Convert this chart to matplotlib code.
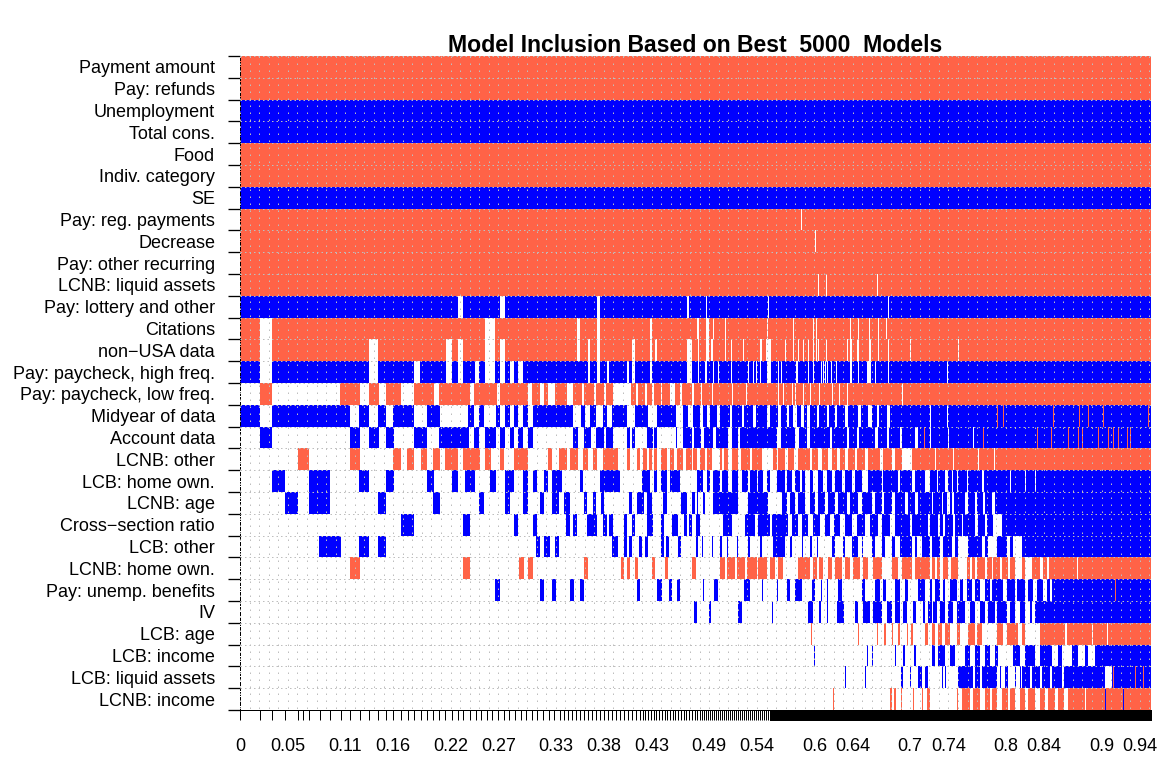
import matplotlib
matplotlib.use("Agg")
import matplotlib.pyplot as plt
import numpy as np
from matplotlib.colors import ListedColormap

plt.rcParams['font.family'] = ['Liberation Sans', 'DejaVu Sans']

# regressors, top to bottom (ordered by posterior inclusion probability)
variables = [
    'Payment amount', 'Pay: refunds', 'Unemployment', 'Total cons.', 'Food',
    'Indiv. category', 'SE', 'Pay: reg. payments', 'Decrease',
    'Pay: other recurring', 'LCNB: liquid assets', 'Pay: lottery and other',
    'Citations', 'non\u2212USA data', 'Pay: paycheck, high freq.',
    'Pay: paycheck, low freq.', 'Midyear of data', 'Account data',
    'LCNB: other', 'LCB: home own.', 'LCNB: age', 'Cross\u2212section ratio',
    'LCB: other', 'LCNB: home own.', 'Pay: unemp. benefits', 'IV',
    'LCB: age', 'LCB: income', 'LCB: liquid assets', 'LCNB: income',
]

# inclusion raster along the cumulative-PMP axis (911 cells).
# first letter = fill, then tokens colour+cell or colour+start-end
# r = negative coefficient, b = positive coefficient, w = not included
inclusion = [
    "r",
    "r",
    "b",
    "b",
    "r",
    "r",
    "b",
    "r w561",
    "r w575",
    "r",
    "r w578 w586 w637",
    "b w218-223 w260-265 w357-360 w447-449 w466 w528 w648",
    "r w20-32 w245-255 w337-340 w357-360 w410-412 w457-459 w466-469 w473 w485 w527 w553 "
    "w573 w576 w610 w618 w629 w638 w646",
    "r w20-32 w129-138 w206-212 w218-223 w245-255 w260-265 w337-340 w348-350 w357-360 "
    "w392-395 w410-412 w415-417 w447-452 w458 w466-469 w471-473 w485 w491 w503 w520-522 "
    "w526-531 w545 w553 w558 w563 w568 w573 w576 w578 w586 w607 w610-612 w617-619 "
    "w629-631 w638 w648 w670 w718",
    "b w20-32 w129-138 w174-180 w206-212 w218-223 w235-239 w245-255 w260-265 w270-274 "
    "w278-283 w348-350 w357-360 w367-369 w387-389 w392-395 w410-412 w447-452 w458 "
    "w465-467 w473 w478 w491 w508 w513 w516 w520 w527-531 w538 w541 w556-558 w568 w573 "
    "w581 w583 w585 w587 w591 w596 w610-612 w618 w627-631 w635 w648 w707",
    "w r20-32 r100-120 r129-139 r146-161 r174-194 r199-230 r234-257 r260-288 r292-300 "
    "r304-308 r315-327 r333-342 r344-354 r356-364 r366-373 r391-396 r398-405 r407-412 "
    "r414-421 r422-430 r435-440 r442-452 r454-911 w461 w472 w492 w506 w538 w543 w552 "
    "w555 w563 w570 w579 w592 w599 w607 w662",
    "w b0-20 b32-110 b119-129 b138-146 b153-174 b187-200 b228-234 b239-244 b256-260 "
    "b265-270 b274-278 b283-288 b293-333 b341-345 b350-356 b363-367 b372-387 b395-408 "
    "b417-436 b443-448 b453-911 w460-463 w467-470 w477-480 w490-492 w502-504 w513-516 "
    "w527-530 w538-541 w547-549 w553-557 w561-564 w567-570 w577-579 w587-589 w595-597 "
    "w605-608 w618-621 w628-632 w637-639 w647-650 w690 w707 r757 r763 r813 r839 r848 "
    "r863 r908",
    "w b20-32 b110-120 b129-139 b146-154 b174-187 b199-229 b234-239 b245-256 b260-265 "
    "b270-274 b278-283 b288-293 b333-338 b344-351 b356-364 b366-373 b387-390 b392-395 "
    "b407-413 b414-417 b436-437 b443-452 b454-911 w461-464 w473-476 w488-492 w498-500 "
    "w537-541 w555-559 w567-570 w590-592 w607-609 w617-619 w635-638 w647-649 w660-662 "
    "w675-678 r684 w690 w708 w733 r743 r797 r811 r828 r838 r842 r858 r868 r873 r878 "
    "r887 r890",
    "w r58-69 r110-120 r153-161 r167-174 r181-187 r193-200 r205-218 r223-240 r245-251 "
    "r260-264 r274-288 r308-312 r319-327 r330-338 r343-348 r353-357 r363-378 r387-390 "
    "r397-400 r403-407 r409-412 r414-417 r421-427 r430-434 r437-443 r446-452 r453-911 "
    "w457-460 w465-467 w472-480 w482-484 w488-492 w498-501 w510-512 w522-533 w537-538 "
    "w545-548 w554-558 w570-572 w578-582 w588-592 w597-600 w605-608 w615-617 w625-628 "
    "w640-643 w652-655 w662-672 w695 w713 w738 w754",
    "w b32-45 b69-90 b119-129 b146-154 b187-194 b212-218 b225-235 b250-256 b265-274 "
    "b283-288 b293-297 b304-308 b312-322 b340-343 b360-380 b402-410 b414-417 b421-427 "
    "b430-440 b455-911 w455-457 w463-467 w470-473 w480-482 w488-492 w498-502 w508-510 "
    "w517-518 w523-527 w530-537 w545-547 w552-555 w560-562 w565-570 w573-578 w583-587 "
    "w592-595 w602-605 w612-615 w622-628 w642-643 w658-660 w672-675 w685-690 w697-698 "
    "w705-708 w712-713 w717-718 w727-728 w742-744 w770 w785 w795",
    "w b45-58 b69-90 b138-146 b193-200 b239-244 b265-270 b283-288 b300-304 b312-319 "
    "b324-330 b344-347 b353-356 b361-364 b389-392 b397-404 b407-412 b423-427 b441-447 "
    "b452-455 b457-458 b463-465 b473-498 b508-528 b542-911 w547-550 w555-558 w565-570 "
    "w575-578 w585-588 w595-598 w607-610 w618-622 w632-635 w642-644 w652-655 w665-668 "
    "w675-678 w692-693 w702-703 w707-710 w712-714 w725-728 w735-737 w743-745 w752-755",
    "w b161-174 b223-230 b274-278 b293-297 b326-330 b333-337 b347-357 b363-367 b369-373 "
    "b384-387 b392-395 b407-413 b421-424 b432-438 b444-447 b449-452 b456-460 b483-492 "
    "b505-545 w515-518 w530-532 b545-911 w548-552 w558-562 w568-573 w580-585 w590-594 "
    "w600-605 w612-617 w625-630 w638-642 w650-655 w670-672 w688-690 w698-700 w703-705 "
    "w713-715 w722-723 w735-738 w745-747 w753-762",
    "w b79-101 b119-129 b138-146 b296-300 b304-310 b315-319 b372-378 b384-387 b389-392 "
    "b399-402 b405-408 b421-424 b426-429 b438-441 b456-458 b462-463 b472-473 b480-482 "
    "b487-488 b497-498 b508-510 b520-522 b533-545 b550-552 b562-563 b570-572 b577-578 "
    "b592-595 b603-605 b612-618 b622-623 b632-635 b642-645 b652-655 b660-672 b675-677 "
    "b682-911 w690-692 w700-703 w712-715 w718-728 w742-745 w748-757 w767-770 w773-782",
    "w r110-120 r223-230 r279-284 r288-293 r344-348 r381-384 r387-390 r395-398 r412-415 "
    "r425-428 r452-456 r480-543 w485-487 w495-497 w505-507 w517-518 w527-530 w535-538 "
    "r558-911 w570-573 w577-579 w583-588 w592-595 w602-605 w610-613 w620-623 w628-633 "
    "w642-652 w658-662 w672-675 w690-692 w695-697 w700-703 w708-711 w718-727 w730-732 "
    "w735-737 w745-747 w752-753 w760-762 w768-770 w775-782 w785-792 w800-803 w807-809 "
    "w837",
    "w b255-260 b300-304 b312-316 b330-334 b340-344 b397-400 b417-422 b429-432 b437-440 "
    "b463 b474-478 b504-510 b522-523 b537 b547-550 b555-562 b572-575 b581 b587 b598-602 "
    "b622-625 b635-640 b643-646 b655-660 b665-668 b678-911 w685-690 w692-695 w700-703 "
    "w705-710 w717-720 w723-727 w732-735 w740-745 w750-752 w763-767 w775-777 w785-788 "
    "w793-797 w803-807 w810-812 r875",
    "w b454-457 b469-471 b498-502 b532-533 b568-573 b579-581 b587-588 b597-604 b615-618 "
    "b623-630 b633-642 b647-652 b655-660 b663-667 b673-676 b683-911 w685-688 w692-693 "
    "w697-700 w705-708 w713-717 w725-730 w735-740 w745-748 w755-757 w767-770 w775-780 "
    "w785-790 w792-795",
    "w r571 r618 r637 r644-646 r652 r658-660 r667-668 r671-673 r685-911 w688-692 w695-698 "
    "w702-705 w710-717 w720-728 w735-737 w742-757 w763-767 w778-782 w785-800 w825-827 "
    "w852 w867",
    "w b574 b627-628 b632 b655 b663-665 b674-676 b692-911 w695-698 w705-710 w715-725 "
    "w730-735 w740-745 w750-755 w758-773 w780-785 w795-800 w812-818 w822-832 w838-845 "
    "w848-855",
    "w b605 b625 b661-663 b670 b678-682 b685-688 b702 b705 b718-745 w733-735 w740-742 "
    "b745-757 b760 b765-768 b775 b780 b782-865 w790-792 w800-802 w810-812 w822-824 "
    "b872-911 r873 r895 r903",
    "w r593 r650-652 r654-656 r661 r673 r682 r687-690 r717-718 r722-833 w730-733 w740-745 "
    "w750-752 w757-762 w768-770 w775-780 w785-788 w795-800 w805-808 w815-818 w824-828 "
    "r833-911 w845 b865 b883",
]

# cumulative posterior model probability at the boundaries of the best models
model_bounds = [0, 0.0209, 0.0334, 0.0470, 0.0606, 0.0658, 0.0721, 0.0836, 0.0940,
                0.1055, 0.1149, 0.1253, 0.1347, 0.1441, 0.1525, 0.1598, 0.1682,
                0.1755, 0.1817, 0.1891, 0.1953, 0.2016, 0.2079, 0.2141, 0.2214,
                0.2277, 0.2329, 0.2402]
# remaining models: (from, to, number of models)
tail_models = [(0.2402, 0.3342, 16), (0.3342, 0.4178, 20), (0.4178, 0.4805, 22),
               (0.4805, 0.5536, 35), (0.5536, 0.9516, 4880)]
total_pmp = 0.9516

tick_values = [0, 0.05, 0.11, 0.16, 0.22, 0.27, 0.33, 0.38, 0.43, 0.49, 0.54,
               0.6, 0.64, 0.7, 0.74, 0.8, 0.84, 0.9, 0.94]
tick_labels = ['0', '0.05', '0.11', '0.16', '0.22', '0.27', '0.33', '0.38', '0.43',
               '0.49', '0.54', '0.6', '0.64', '0.7', '0.74', '0.8', '0.84', '0.9', '0.94']

n_cells = 911
codes = {'w': 0, 'r': 1, 'b': 2}


def parse_row(spec):
    tokens = spec.split()
    row = np.full(n_cells, codes[tokens[0]])
    for tok in tokens[1:]:
        c = codes[tok[0]]
        if '-' in tok:
            a, b = tok[1:].split('-')
            row[int(a):int(b)] = c
        else:
            row[int(tok[1:])] = c
    return row


grid = np.array([parse_row(s) for s in inclusion])
nvar = len(variables)

fig = plt.figure(figsize=(11.68, 7.58), dpi=100)
ax = fig.add_axes([240 / 1168, 1 - 710 / 758, 911 / 1168, 654 / 758])

ax.imshow(grid, cmap=ListedColormap(['white', 'tomato', 'blue']), vmin=0, vmax=2,
          extent=(0, total_pmp, nvar, 0), aspect='auto', interpolation='nearest')
ax.set_xlim(0, total_pmp)
ax.set_ylim(nvar, 0)

# dotted grid
ax.vlines(np.arange(0, 0.955, 0.01), 0, nvar, colors='#BEBEBE', linewidth=0.72,
          linestyles=(0, (1.5, 5.5)), zorder=3)
ax.hlines(np.arange(nvar + 1), 0, total_pmp, colors='#BEBEBE', linewidth=0.72,
          linestyles=(0, (1.5, 3)), zorder=3)

# model boundary ticks
bounds = list(model_bounds)
for a, b, n in tail_models:
    bounds.extend(np.linspace(a, b, n + 1)[1:])
ax.vlines(bounds, -0.0153, 0, transform=ax.get_xaxis_transform(), colors='black',
          linewidth=0.72, clip_on=False)

ax.set_xticks(tick_values)
ax.set_xticklabels(tick_labels, fontsize=13)
ax.tick_params(axis='x', length=0, pad=20.5)

ax.set_yticks(np.arange(nvar + 1))
ax.set_yticklabels([])
ax.set_yticks(np.arange(nvar) + 0.5, minor=True)
ax.set_yticklabels(variables, minor=True, fontsize=13)
ax.tick_params(axis='y', which='major', length=8.6, width=0.95)
ax.tick_params(axis='y', which='minor', length=0, pad=18)

for s in ['top', 'right']:
    ax.spines[s].set_visible(False)
ax.spines['left'].set_linestyle((0, (3, 2)))
ax.spines['left'].set_linewidth(0.72)
ax.spines['bottom'].set_linewidth(0.72)

fig.text(695.5 / 1168, 1 - 45 / 758, 'Model Inclusion Based on Best  5000  Models',
         ha='center', va='center', fontsize=16.6, fontweight='bold')

fig.savefig('out.png', dpi=100)
